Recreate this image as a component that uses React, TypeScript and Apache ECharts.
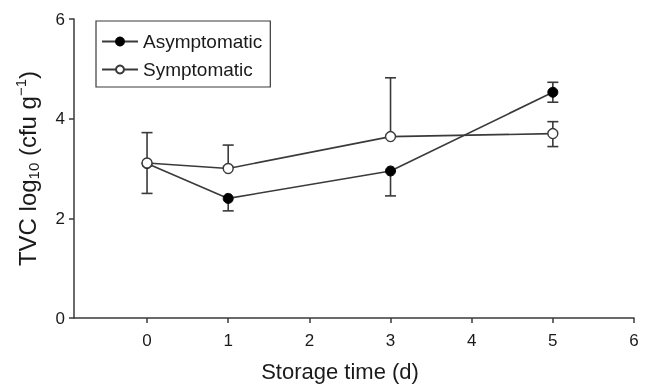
import React, { useEffect, useRef } from "react";
import * as echarts from "echarts";

const days = [0, 1, 3, 5];
const xTicks = [0, 1, 2, 3, 4, 5, 6];
const asymMean = [3.1, 2.4, 2.95, 4.53];
const asymErrUp = [0, 0, 0, 0.2];
const asymErrDown = [0.6, 0.25, 0.5, 0.2];
const symMean = [3.11, 3.0, 3.64, 3.7];
const symErrUp = [0.61, 0.47, 1.18, 0.24];
const symErrDown = [0, 0, 0, 0.26];

const FONT = "'Liberation Sans', Arial, Helvetica, sans-serif";
const INK = "#3a3a3a";

function errData(mean: number[], up: number[], down: number[]) {
  return days.map((d, i) => [d, mean[i] - down[i], mean[i] + up[i], mean[i]]);
}

export default function App() {
  const ref = useRef<HTMLDivElement>(null);
  useEffect(() => {
    if (!ref.current) return;
    const chart = echarts.init(ref.current, undefined, { renderer: "svg" });
    const renderErr = (params: any, api: any) => {
      const x = api.value(0);
      const lo = api.value(1);
      const hi = api.value(2);
      const m = api.value(3);
      const pLo = api.coord([x, lo]);
      const pHi = api.coord([x, hi]);
      const half = 5.5;
      const style = { stroke: INK, lineWidth: 1.6 };
      const children: any[] = [
        { type: "line", shape: { x1: pLo[0], y1: pLo[1], x2: pHi[0], y2: pHi[1] }, style },
      ];
      if (hi > m) children.push({ type: "line", shape: { x1: pHi[0] - half, y1: pHi[1], x2: pHi[0] + half, y2: pHi[1] }, style });
      if (lo < m) children.push({ type: "line", shape: { x1: pLo[0] - half, y1: pLo[1], x2: pLo[0] + half, y2: pLo[1] }, style });
      return { type: "group", children };
    };
    chart.setOption({
      animation: false,
      textStyle: { fontFamily: FONT },
      grid: { left: 74, right: 16, top: 19, bottom: 71, containLabel: false },
      legend: {
        left: 96,
        top: 21,
        orient: "vertical",
        borderColor: INK,
        borderWidth: 1.2,
        borderRadius: 0,
        padding: [11, 8, 8, 5],
        itemWidth: 36,
        itemHeight: 10,
        itemGap: 9,
        textStyle: { fontSize: 19, color: "#1a1a1a", fontFamily: FONT, lineHeight: 18 },
        data: ["Asymptomatic", "Symptomatic"],
      },
      xAxis: {
        type: "value",
        min: -0.9,
        max: 6,
        name: "Storage time (d)",
        nameLocation: "middle",
        nameGap: 42,
        nameTextStyle: { fontSize: 22, color: "#1a1a1a", fontFamily: FONT, padding: [0, 28, 0, 0] },
        axisLine: { onZero: false, lineStyle: { color: INK, width: 1.5 } },
        axisTick: { show: true, length: 5, customValues: xTicks, lineStyle: { color: INK, width: 1.5 } },
        axisLabel: { customValues: xTicks, fontSize: 17, color: "#1a1a1a", margin: 14, fontFamily: FONT },
        splitLine: { show: false },
      },
      yAxis: {
        type: "value",
        min: 0,
        max: 6,
        interval: 2,
        name: "{m|TVC log}{sub|10}{m| (cfu g}{sup|−1}{m|)}",
        nameLocation: "middle",
        nameGap: 33,
        nameTextStyle: {
          fontSize: 24,
          color: "#1a1a1a",
          fontFamily: FONT,
          rich: {
            m: { fontSize: 24, lineHeight: 28, fontFamily: FONT, color: "#1a1a1a" },
            sub: { fontSize: 15, lineHeight: 15, verticalAlign: "bottom", fontFamily: FONT, color: "#1a1a1a" },
            sup: { fontSize: 15, lineHeight: 15, verticalAlign: "top", fontFamily: FONT, color: "#1a1a1a" },
          },
        },
        axisLine: { show: true, onZero: false, lineStyle: { color: INK, width: 1.5 } },
        axisTick: { show: true, length: 5, lineStyle: { color: INK, width: 1.5 } },
        axisLabel: { fontSize: 17, color: "#1a1a1a", margin: 9, fontFamily: FONT },
        splitLine: { show: false },
      },
      series: [
        {
          type: "custom",
          name: "errA",
          renderItem: renderErr,
          data: errData(asymMean, asymErrUp, asymErrDown),
          encode: { x: 0, y: [1, 2] },
          z: 1,
          silent: true,
        },
        {
          type: "custom",
          name: "errS",
          renderItem: renderErr,
          data: errData(symMean, symErrUp, symErrDown),
          encode: { x: 0, y: [1, 2] },
          z: 1,
          silent: true,
        },
        {
          type: "line",
          name: "Asymptomatic",
          data: days.map((d, i) => [d, asymMean[i]]),
          symbol: "circle",
          symbolSize: 10,
          lineStyle: { color: INK, width: 1.6 },
          itemStyle: { color: "#000", borderColor: "#000", borderWidth: 1 },
          z: 3,
        },
        {
          type: "line",
          name: "Symptomatic",
          data: days.map((d, i) => [d, symMean[i]]),
          symbol: "circle",
          symbolSize: 10,
          showAllSymbol: true,
          lineStyle: { color: INK, width: 1.6 },
          itemStyle: { color: "#fff", borderColor: INK, borderWidth: 1.4 },
          z: 4,
        },
      ],
    });
    return () => chart.dispose();
  }, []);
  return <div ref={ref} style={{ position: "fixed", left: 0, top: 0, width: 650, height: 389 }} />;
}
